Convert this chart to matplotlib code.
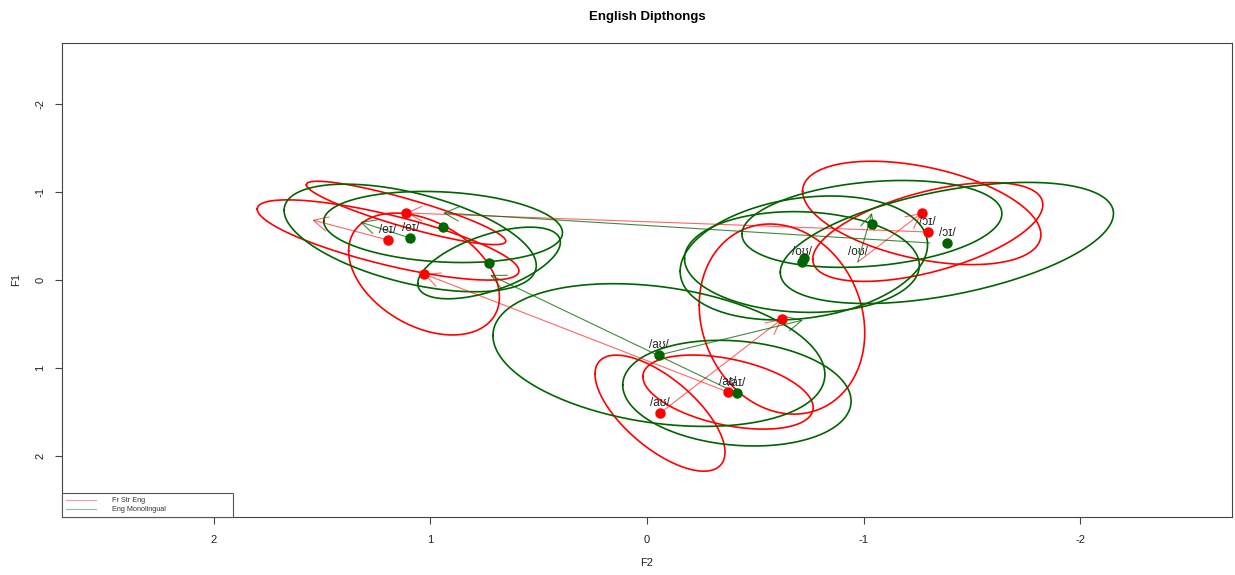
import numpy as np
import matplotlib
matplotlib.use("Agg")
import matplotlib.pyplot as plt

plt.rcParams['font.family'] = ['Liberation Sans', 'DejaVu Sans']
plt.rcParams['axes.unicode_minus'] = False

# group names and colours
groups = ['Fr Str Eng', 'Eng Monolingual']

# mean points (normalised F2, F1); each one also gets an ellipse
red_x = [1.195, 1.112, 1.029, -0.060, -0.623, -0.374, -1.268, -1.296]
red_y = [-0.456, -0.764, -0.068, 1.517, 0.445, 1.277, -0.764, -0.547]
# ellipse half-width in F2, half-height in F1, correlation
red_sx = [0.604, 0.460, 0.348, 0.300, 0.382, 0.393, 0.550, 0.531]
red_sy = [0.457, 0.361, 0.694, 0.661, 1.083, 0.422, 0.589, 0.563]
red_r = [-0.769, -0.888, -0.378, -0.673, -0.145, -0.417, -0.420, 0.551]

green_x = [1.093, 0.941, 0.729, -0.055, -0.415, -0.715, -0.724, -1.038, -1.384]
green_y = [-0.479, -0.604, -0.194, 0.855, 1.289, -0.205, -0.251, -0.639, -0.422]
green_sx = [0.582, 0.551, 0.329, 0.766, 0.527, 0.542, 0.571, 0.600, 0.769]
green_sy = [0.613, 0.405, 0.408, 0.813, 0.602, 0.574, 0.706, 0.495, 0.690]
green_r = [-0.513, -0.162, 0.576, -0.273, -0.151, -0.067, 0.215, 0.236, 0.485]

# diphthong trajectories (start -> end)
red_ax0 = [1.195, -0.374, -0.060, -0.973, -1.296]
red_ay0 = [-0.456, 1.277, 1.517, -0.205, -0.547]
red_ax1 = [1.545, 1.029, -0.623, -1.268, 1.112]
red_ay1 = [-0.684, -0.068, 0.445, -0.764, -0.764]

green_ax0 = [1.093, -0.415, -0.055, -0.973, -1.305]
green_ay0 = [-0.479, 1.289, 0.855, -0.205, -0.422]
green_ax1 = [1.324, 0.724, -0.720, -1.038, 0.941]
green_ay1 = [-0.661, -0.057, 0.456, -0.764, -0.764]

# vowel labels
labels = ['/eɪ/', '/aʊ/', '/aɪ/', '/oʊ/', '/ɔɪ/']
red_lx = [1.195, -0.060, -0.374, -0.973, -1.296]
red_ly = [-0.456, 1.517, 1.277, -0.205, -0.547]
green_lx = [1.093, -0.055, -0.415, -0.715, -1.384]
green_ly = [-0.479, 0.855, 1.289, -0.205, -0.422]

RED = '#FF0000'
GREEN = '#006400'


def ellipse(cx, cy, sx, sy, r, n=240):
    t = np.linspace(0, 2 * np.pi, n)
    x = cx + sx * np.cos(t)
    y = cy + sy * (r * np.cos(t) + np.sqrt(1 - r * r) * np.sin(t))
    return x, y


fig = plt.figure(figsize=(12.35, 5.75), dpi=100)
ax = fig.add_axes([62 / 1235, 58 / 575, 1170 / 1235, 474 / 575])

for xs, ys, sxs, sys_, rs, col in [(red_x, red_y, red_sx, red_sy, red_r, RED),
                                   (green_x, green_y, green_sx, green_sy, green_r, GREEN)]:
    for cx, cy, sx, sy, r in zip(xs, ys, sxs, sys_, rs):
        ex, ey = ellipse(cx, cy, sx, sy, r)
        ax.plot(ex, ey, color=col, lw=1.2, zorder=2)

for x0s, y0s, x1s, y1s, col, a in [(red_ax0, red_ay0, red_ax1, red_ay1, RED, 0.6),
                                   (green_ax0, green_ay0, green_ax1, green_ay1, GREEN, 0.75)]:
    for x0, y0, x1, y1 in zip(x0s, y0s, x1s, y1s):
        ax.annotate('', xy=(x1, y1), xytext=(x0, y0),
                    arrowprops=dict(arrowstyle='->', color=col, alpha=a, lw=0.8,
                                    shrinkA=0, shrinkB=0, mutation_scale=26),
                    zorder=3)

ax.plot(red_x, red_y, 'o', color=RED, ms=6.5, zorder=4)
ax.plot(green_x, green_y, 'o', color=GREEN, ms=6.5, zorder=4)

for lx, ly, col in [(red_lx, red_ly, RED), (green_lx, green_ly, GREEN)]:
    for lab, x, y in zip(labels, lx, ly):
        ax.annotate(lab, (x, y), xytext=(0, 7), textcoords='offset points',
                    ha='center', va='center', fontsize=8.5, color='#222222', zorder=5)

# legend
ax.plot([], [], color=RED, alpha=0.4, lw=0.8, label=groups[0])
ax.plot([], [], color=GREEN, alpha=0.4, lw=0.8, label=groups[1])
leg = ax.legend(loc='lower left', bbox_to_anchor=(0, 0, 171 / 1170, 0.2), mode='expand',
                borderaxespad=0, fontsize=5.2, handlelength=4.2, handletextpad=2.2,
                borderpad=0.55, labelspacing=0.25, fancybox=False, framealpha=1)
leg.get_frame().set_edgecolor('#555555')
leg.get_frame().set_linewidth(0.8)
for t in leg.get_texts():
    t.set_color('#333333')

ax.set_xlim(2.7, -2.7)
ax.set_ylim(2.7, -2.7)
ax.set_xticks([2, 1, 0, -1, -2])
ax.set_yticks([-2, -1, 0, 1, 2])
ax.tick_params(length=5, width=0.8, color='#444444', labelsize=8, labelcolor='#222222')
ax.tick_params(axis='x', pad=8)
ax.tick_params(axis='y', pad=7)
for lab in ax.get_yticklabels():
    lab.set_rotation(90)
    lab.set_va('center')
for s in ax.spines.values():
    s.set_color('#444444')
    s.set_linewidth(0.8)

ax.set_xlabel('F2', fontsize=8, color='#222222')
ax.set_ylabel('F1', fontsize=8, color='#222222')
ax.xaxis.set_label_coords(0.5, -46 / 474)
ax.xaxis.label.set_va('center')
ax.yaxis.set_label_coords(-46 / 1170, 0.5)
ax.yaxis.label.set_va('center')

fig.text(647 / 1235, 1 - 17 / 575, 'English Dipthongs', ha='center', va='center',
         fontsize=9.5, fontweight='bold')

fig.savefig('out.png', dpi=100)
